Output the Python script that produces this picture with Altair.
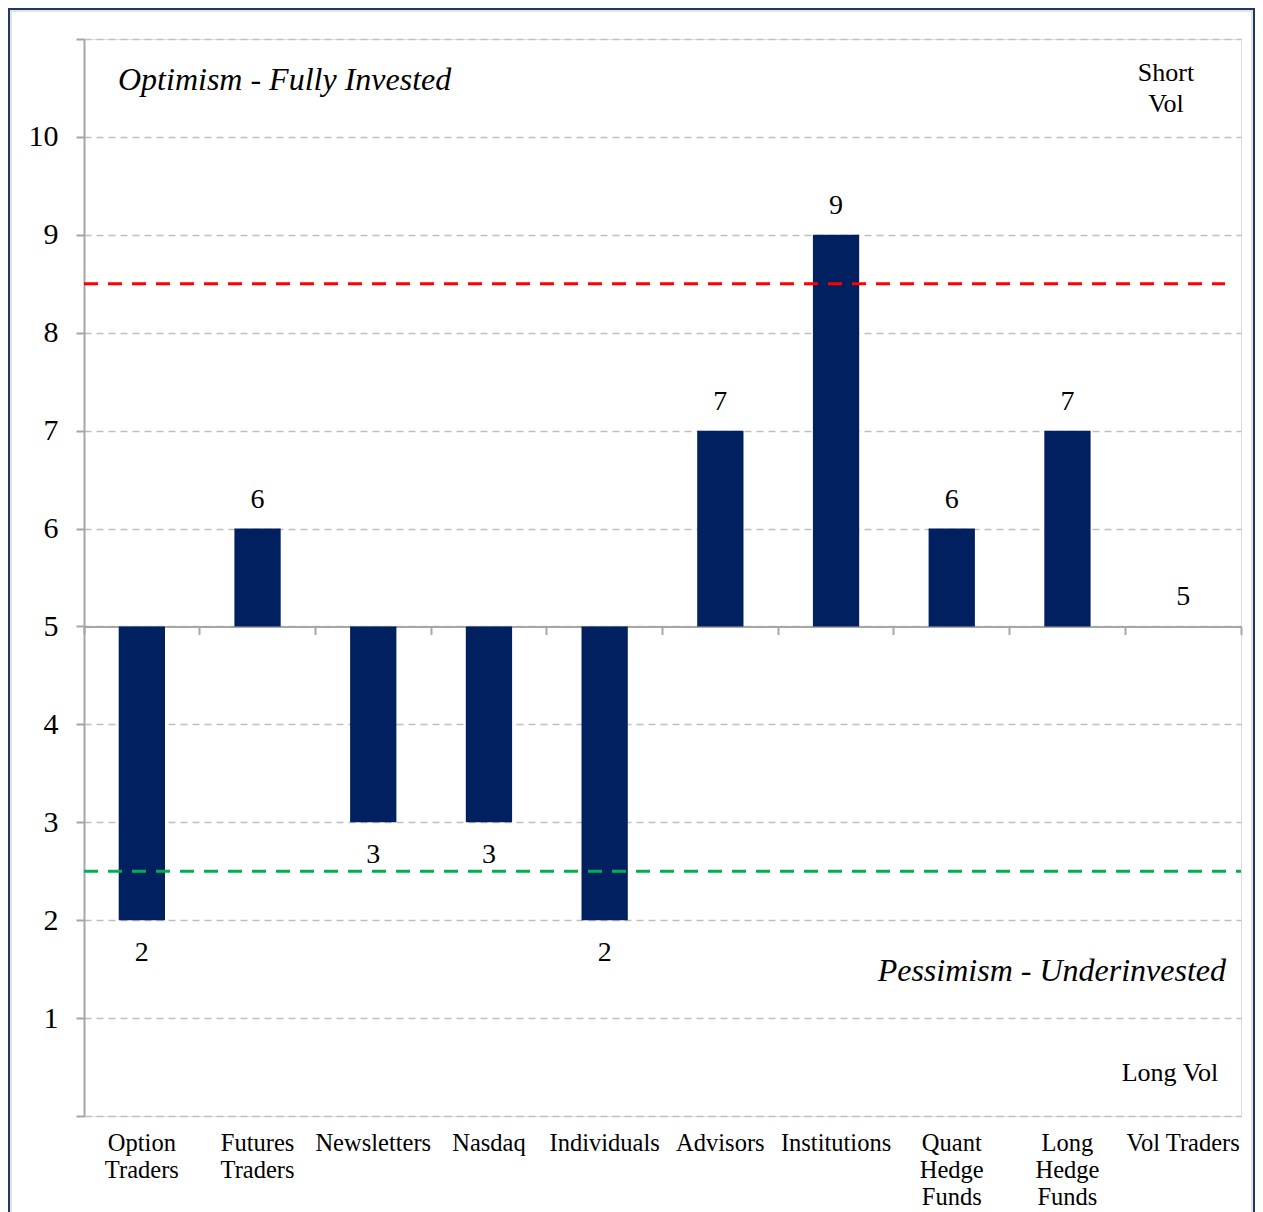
import altair as alt
import pandas as pd

# ---- data ----
categories = ["Option\nTraders", "Futures\nTraders", "Newsletters", "Nasdaq", "Individuals",
              "Advisors", "Institutions", "Quant\nHedge\nFunds", "Long\nHedge\nFunds", "Vol Traders"]
values = [2, 6, 3, 3, 2, 7, 9, 6, 7, 5]
neutral = 5
upper_threshold = 8.5
lower_threshold = 2.5
y_ticks = list(range(0, 12))
top_note = ["Optimism - Fully Invested"]
bottom_note = ["Pessimism - Underinvested"]
short_vol = ["Short", "Vol"]
long_vol = ["Long Vol"]

df = pd.DataFrame({"cat": categories, "value": values})

FONT = "Liberation Serif"
NAVY = "#002060"
AXIS_GREY = "#A6A6A6"
W, H = 1157, 1077
YMAX = 11

xscale = alt.Scale(domain=categories, paddingInner=0, paddingOuter=0)
yscale = alt.Scale(domain=[0, YMAX], nice=False, zero=True)

# move the category axis line up to the neutral level
baseline_offset = -(H * neutral / YMAX)
x_axis = alt.Axis(
    orient="bottom", offset=baseline_offset, domain=True, domainColor=AXIS_GREY,
    domainWidth=2, ticks=True, tickSize=8, tickColor=AXIS_GREY, tickWidth=2,
    bandPosition=1, tickExtra=True, labels=False, grid=False, title=None,
)

y_axis = alt.Axis(
    values=y_ticks,
    labelExpr="datum.value >= 1 && datum.value <= 10 ? datum.label : ''",
    labelFont=FONT, labelFontSize=30, labelColor="black", labelPadding=18,
    tickSize=8, tickColor=AXIS_GREY, tickWidth=2,
    domainColor=AXIS_GREY, domainWidth=2,
    grid=True, gridColor="#BFBFBF", gridDash=[7, 5], gridWidth=1.5,
    title=None,
)

X = alt.X("cat:N", sort=categories, scale=xscale, axis=x_axis)

bars = alt.Chart(df).mark_bar(color=NAVY, width=alt.RelativeBandSize(0.4)).encode(
    x=X,
    y=alt.Y("value:Q", scale=yscale, axis=y_axis),
    y2=alt.datum(neutral),
)

lab_above = alt.Chart(df).transform_filter(f"datum.value >= {neutral}").mark_text(
    font=FONT, fontSize=28, color="black", baseline="middle", dy=-29
).encode(
    x=X,
    y=alt.Y("value:Q", scale=yscale, axis=y_axis),
    text=alt.Text("value:Q"),
)

lab_below = alt.Chart(df).transform_filter(f"datum.value < {neutral}").mark_text(
    font=FONT, fontSize=28, color="black", baseline="middle", dy=33
).encode(
    x=X,
    y=alt.Y("value:Q", scale=yscale, axis=y_axis),
    text=alt.Text("value:Q"),
)

cat_labels = alt.Chart(df).mark_text(
    font=FONT, fontSize=24.5, color="black", baseline="top", align="center",
    lineBreak="\n", lineHeight=27,
).encode(
    x=X,
    y=alt.value(H + 16),
    text=alt.Text("cat:N"),
)

one = pd.DataFrame({"k": [0]})

red_line = alt.Chart(one).mark_rule(color="#FF0000", strokeWidth=3, strokeDash=[14, 10]).encode(
    y=alt.Y(datum=upper_threshold, scale=yscale, axis=y_axis),
    x=alt.value(0), x2=alt.value(W - 16),
)
green_line = alt.Chart(one).mark_rule(color="#00B050", strokeWidth=3, strokeDash=[14, 10]).encode(
    y=alt.Y(datum=lower_threshold, scale=yscale, axis=y_axis),
    x=alt.value(0), x2=alt.value(W),
)

t_top = alt.Chart(pd.DataFrame({"t": top_note})).mark_text(
    font=FONT, fontSize=32, fontStyle="italic", align="left", baseline="middle", color="black"
).encode(x=alt.value(34), y=alt.value(41), text="t:N")

t_bottom = alt.Chart(pd.DataFrame({"t": bottom_note})).mark_text(
    font=FONT, fontSize=32, fontStyle="italic", align="right", baseline="middle", color="black"
).encode(x=alt.value(1142), y=alt.value(932), text="t:N")

t_short = alt.Chart(one).mark_text(
    font=FONT, fontSize=26, align="center", baseline="middle", color="black",
    text=short_vol, lineHeight=31,
).encode(x=alt.value(1082), y=alt.value(34))

t_long = alt.Chart(pd.DataFrame({"t": long_vol})).mark_text(
    font=FONT, fontSize=26, align="center", baseline="middle", color="black"
).encode(x=alt.value(1086), y=alt.value(1034), text="t:N")

frame_shadow = alt.Chart(one).mark_rect(fill="transparent", stroke="#E3E3E3", strokeWidth=2).encode(
    x=alt.value(-73), x2=alt.value(1168), y=alt.value(-28), y2=alt.value(1300),
)
frame = alt.Chart(one).mark_rect(fill="transparent", stroke="#1F3864", strokeWidth=2).encode(
    x=alt.value(-75), x2=alt.value(1170), y=alt.value(-30), y2=alt.value(1300),
)

chart = alt.layer(
    frame_shadow, frame, bars, red_line, green_line, lab_above, lab_below, cat_labels,
    t_top, t_bottom, t_short, t_long,
).properties(
    width=W, height=H,
    autosize=alt.AutoSizeParams(type="none"),
    padding={"left": 76, "top": 31, "right": 14, "bottom": 96},
).configure_view(stroke="transparent", strokeWidth=0).configure(background="white")

chart.save("out.html", embed_options={"renderer": "svg", "actions": False})
